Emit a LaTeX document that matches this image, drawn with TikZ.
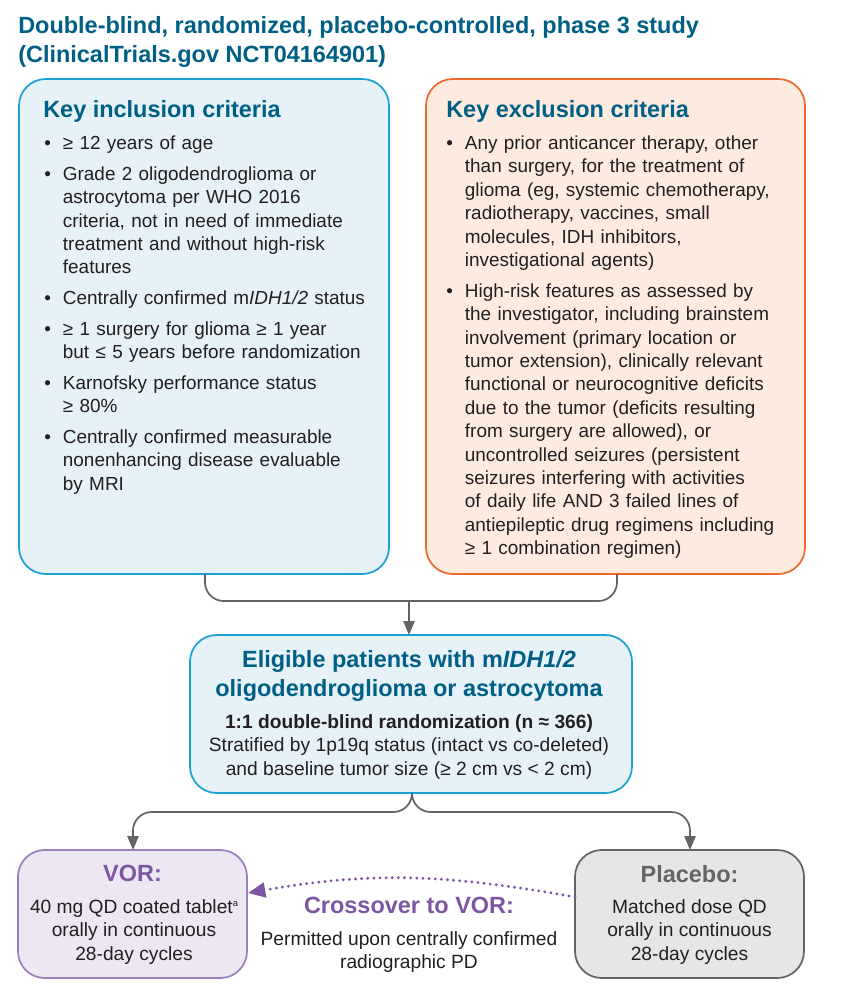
\documentclass[tikz,border=0pt]{standalone}
\usepackage{fontspec}
\setmainfont{Liberation Sans}
\usetikzlibrary{arrows.meta,positioning}
\definecolor{tealhead}{HTML}{005F85}
\definecolor{bluebd}{HTML}{1BA1D3}
\definecolor{bluebg}{HTML}{E6F1F8}
\definecolor{orangebd}{HTML}{EC6A2C}
\definecolor{orangebg}{HTML}{FDEBE0}
\definecolor{purplebd}{HTML}{9C80BA}
\definecolor{purplebg}{HTML}{ECE7F3}
\definecolor{purplehead}{HTML}{7C56A2}
\definecolor{greybd}{HTML}{626466}
\definecolor{greybg}{HTML}{E5E6E8}
\definecolor{bodytext}{HTML}{231F20}
\newcommand{\critem}[1]{\hangindent=14pt\hangafter=1\noindent\hbox to 14pt{\textbullet\hfil}{\let\\\newline #1}\par}
\tikzset{
  boxnode/.style={draw,line width=1.3pt,rounded corners=20pt,inner sep=0pt},
  headnode/.style={inner sep=0pt,font=\bfseries\fontsize{17.6}{22}\selectfont,text=tealhead},
  listnode/.style={inner sep=0pt,anchor=north west,text width=#1,align=left,text=bodytext,
    font=\fontsize{14.2}{17.55}\selectfont\setlength{\parskip}{5.5pt}},
  bodynode/.style={inner sep=0pt,align=center,text=bodytext,font=\fontsize{14.4}{17.6}\selectfont},
  joinline/.style={draw=greybd,line width=1.3pt,rounded corners=14pt},
  arrowline/.style={joinline,-{Triangle[length=10.5pt,width=8.5pt]}}
}
\begin{document}
\begin{tikzpicture}[x=0.75pt,y=-0.75pt]
  \useasboundingbox (0,0) rectangle (857,990);

  \node[headnode,anchor=north west,align=left] (title) at (18,16)
    {Double-blind, randomized, placebo-controlled, phase 3 study\\(ClinicalTrials.gov NCT04164901)};

  \node[boxnode,draw=bluebd,fill=bluebg,minimum width=277.5pt,minimum height=371.25pt] (incl) at (204,326.5) {};
  \node[boxnode,draw=orangebd,fill=orangebg,minimum width=284.25pt,minimum height=371.25pt] (excl) at (615.5,326.5) {};
  \node[boxnode,draw=bluebd,fill=bluebg,minimum width=331.5pt,minimum height=118.5pt] (elig) at (411,714) {};
  \node[boxnode,draw=purplebd,fill=purplebg,minimum width=171.75pt,minimum height=96pt] (vor) at (132.5,914) {};
  \node[boxnode,draw=greybd,fill=greybg,minimum width=171.75pt,minimum height=96pt] (plac) at (689.5,914) {};

  \node[headnode,anchor=west] (inclhead) at (43,111) {Key inclusion criteria};
  \node[headnode,anchor=west] (exclhead) at (446,111) {Key exclusion criteria};

  \node[listnode=260pt] (incllist) at (44,135.5) {%
    \critem{≥ 12 years of age}
    \critem{Grade 2 oligodendroglioma or\\astrocytoma per WHO 2016\\criteria, not in need of immediate\\treatment and without high-risk\\features}
    \critem{Centrally confirmed m\textit{IDH1/2} status}
    \critem{≥ 1 surgery for glioma ≥ 1 year\\but ≤ 5 years before randomization}
    \critem{Karnofsky performance status\\≥ 80\%}
    \critem{Centrally confirmed measurable\\nonenhancing disease evaluable\\by MRI}};

  \node[listnode=270pt] (excllist) at (446,135.5) {%
    \critem{Any prior anticancer therapy, other\\than surgery, for the treatment of\\glioma (eg, systemic chemotherapy,\\radiotherapy, vaccines, small\\molecules, IDH inhibitors,\\investigational agents)}
    \critem{High-risk features as assessed by\\the investigator, including brainstem\\involvement (primary location or\\tumor extension), clinically relevant\\functional or neurocognitive deficits\\due to the tumor (deficits resulting\\from surgery are allowed), or\\uncontrolled seizures (persistent\\seizures interfering with activities\\of daily life AND 3 failed lines of\\antiepileptic drug regimens including\\≥ 1 combination regimen)}};

  \node[headnode,align=center,anchor=north] (elighead) at (409,650) {Eligible patients with m\textit{IDH1/2}\\oligodendroglioma or astrocytoma};
  \node[bodynode,anchor=north] (eligbody) at (409,714) {\textbf{1:1 double-blind randomization (n ≈ 366)}\\Stratified by 1p19q status (intact vs co-deleted)\\and baseline tumor size (≥ 2 cm vs < 2 cm)};

  \node[headnode,text=purplehead,anchor=north] (vorhead) at (132.5,865) {VOR:};
  \node[bodynode,anchor=north] (vorbody) at (134,899) {40 mg QD coated tablet\raisebox{5pt}{\fontsize{7}{7}\selectfont a}\\orally in continuous\\28-day cycles};
  \node[headnode,text=greybd,anchor=north] (plachead) at (689.5,865) {Placebo:};
  \node[bodynode,anchor=north] (placbody) at (689.5,899) {Matched dose QD\\orally in continuous\\28-day cycles};

  \node[headnode,text=purplehead,anchor=north] (crosshead) at (409,897) {Crossover to VOR:};
  \node[bodynode,anchor=north] (crossbody) at (409,931) {Permitted upon centrally confirmed\\radiographic PD};

  \coordinate (inclout) at (205,574);
  \coordinate (exclout) at (617,574);
  \coordinate (joinin) at (409,601);
  \coordinate (eligin) at (409,635);
  \coordinate (eligout) at (412,793);
  \coordinate (eligjoin) at (412,812);
  \coordinate (vorin) at (133,850);
  \coordinate (placin) at (690,850);
  \coordinate (placleft) at (575,897);
  \coordinate (vorright) at (248,893);

  \path[joinline] (inclout) |- (joinin) -| (exclout);
  \path[arrowline] (joinin) -- (eligin);
  \path[arrowline] (eligout) -- (eligjoin) -| (vorin);
  \path[arrowline] (eligout) -- (eligjoin) -| (placin);
  \path[draw=purplehead,line width=2.4pt,line cap=round,dash pattern=on 0pt off 4.6pt,-{Triangle[length=13pt,width=11pt,fill=purplehead]}] (placleft) to[out=170,in=10] (vorright);
\end{tikzpicture}
\end{document}
